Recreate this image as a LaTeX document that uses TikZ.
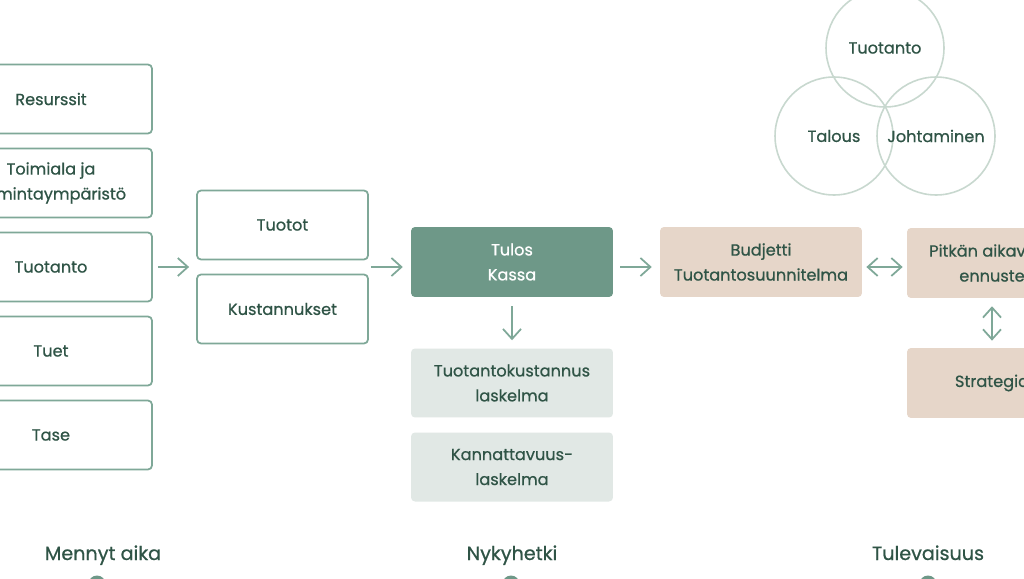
\documentclass[tikz,border=0pt]{standalone}
\usepackage{fontspec}
\setmainfont{Poppins}[FakeBold=0.7]
\usepackage{tikz}
\usetikzlibrary{calc, arrows.meta, positioning}
\definecolor{myframe}{RGB}{127, 168, 152}
\definecolor{mydark}{RGB}{110, 152, 136}
\definecolor{mylight}{RGB}{225, 232, 229}
\definecolor{mybeige}{RGB}{230, 214, 201}
\definecolor{mytext}{RGB}{47, 84, 70}
\definecolor{myring}{RGB}{200, 216, 207}
\tikzset{>={Straight Barb[length=2mm, width=3.6mm, line width=1pt]}}
\tikzset{
  base/.style = {rectangle, rounded corners = 0.08cm, align = center, text = mytext,
                 font = \fontsize{9.2}{14.2}\selectfont, inner sep = 0pt},
  outbox/.style = {base, draw = myframe, line width = 1pt, fill = white,
                   minimum width = 4.04cm, minimum height = 1.38cm},
  midbox/.style = {outbox, minimum width = 3.42cm},
  darkbox/.style = {base, fill = mydark, text = white,
                    minimum width = 4.04cm, minimum height = 1.4cm},
  lightbox/.style = {base, fill = mylight, minimum width = 4.04cm, minimum height = 1.38cm},
  beigebox/.style = {base, fill = mybeige, minimum width = 4.04cm, minimum height = 1.4cm},
  ring/.style = {circle, draw = myring, line width = 0.9pt, minimum size = 2.36cm,
                 text = mytext, font = \fontsize{9.2}{14.2}\selectfont, inner sep = 0pt},
  era/.style = {text = mytext, anchor = base, font = \fontsize{10.9}{14}\selectfont},
  flow/.style = {->, draw = myframe, line width = 1.1pt},
  both/.style = {<->, draw = myframe, line width = 1.1pt}
}
\begin{document}
\begin{tikzpicture}[x = 0.02cm, y = -0.02cm]
\clip (0,0) rectangle (1024,578);
\fill[white] (0,0) rectangle (1024,578);

\node[outbox] (resurssit) at (51, 99) {Resurssit};
\node[outbox] (toimiala) at (51, 183) {Toimiala ja\\toimintaympäristö};
\node[outbox] (tuotanto) at (51, 267) {Tuotanto};
\node[outbox] (tuet) at (51, 351) {Tuet};
\node[outbox] (tase) at (51, 435) {Tase};

\node[midbox] (tuotot) at (282.5, 225) {Tuotot};
\node[midbox] (kustannukset) at (282.5, 309) {Kustannukset};
\coordinate (midin) at (197, 267);
\coordinate (midout) at (368, 267);

\node[darkbox] (tulos) at (512, 262) {Tulos\\Kassa};
\node[lightbox] (tkl) at (512, 383) {Tuotantokustannus\\laskelma};
\node[lightbox] (kl) at (512, 467) {Kannattavuus-\\laskelma};

\node[beigebox] (budjetti) at (761, 262) {Budjetti\\Tuotantosuunnitelma};
\node[beigebox, minimum width = 3.4cm] (pitkan) at (992, 263) {Pitkän aikavälin\\ennuste};
\node[beigebox, minimum width = 3.4cm] (strategia) at (992, 383) {Strategia};

\node[ring] (ctuotanto) at (885, 48) {Tuotanto};
\node[ring] (ctalous) at (834, 136) {Talous};
\node[ring] (cjohto) at (936, 136) {Johtaminen};

\draw[flow, shorten <= 2.8pt, shorten >= 4.5pt] (tuotanto.east) -- (midin);
\draw[flow, shorten <= 1.7pt, shorten >= 4.5pt] (midout) -- (midout -| tulos.west);
\draw[flow, shorten <= 4pt, shorten >= 4.5pt] (tulos.east |- midout) -- (budjetti.west |- midout);
\draw[flow, shorten <= 5pt, shorten >= 4.5pt] (tulos.south) -- (tkl.north);
\draw[both, shorten <= 2.3pt, shorten >= 2.3pt] (budjetti.east |- midout) -- (pitkan.west |- midout);
\draw[both, shorten <= 4.5pt, shorten >= 4pt] (pitkan.south) -- (strategia.north);

\node[era] (mennyt) at (103, 560) {Mennyt aika};
\node[era] (nyky) at (512, 560) {Nykyhetki};
\node[era] (tuleva) at (928, 560) {Tulevaisuus};
\fill[mydark] (97, 584) circle (8.5);
\fill[mydark] (511, 584) circle (8.5);
\fill[mydark] (928, 584) circle (8.5);
\end{tikzpicture}
\end{document}
